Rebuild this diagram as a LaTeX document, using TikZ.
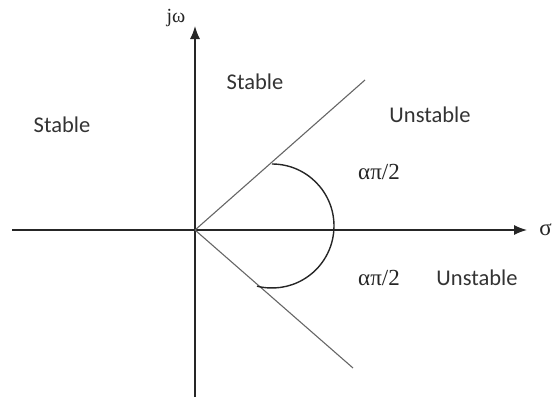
\documentclass[tikz,border=0pt]{standalone}
\usepackage{fontspec}
\setmainfont{Carlito}
\newfontfamily\grk{Liberation Serif}
\usetikzlibrary{arrows.meta}
\begin{document}
\begin{tikzpicture}[x=1pt,y=1pt,
  lbl/.style={font=\fontsize{22.5}{24}\selectfont, text=black!80, inner sep=0pt},
  glbl/.style={font=\grk\fontsize{23}{25}\selectfont, text=black!85, inner sep=0pt},
  axis/.style={line width=1.4pt, black!85, -{Latex[length=13pt,width=10pt]}},
  ray/.style={line width=1.1pt, black!60},
  arcline/.style={line width=1.4pt, black!85}]
\useasboundingbox (0,0) rectangle (553,400);
\coordinate (O) at (195,170);
\coordinate (xs) at (12,170);
\coordinate (xe) at (527,170);
\coordinate (ys) at (195,3);
\coordinate (ye) at (195,374);
\coordinate (u) at (365,320);
\coordinate (l) at (353,32);
\draw[axis] (xs) -- (xe);
\draw[axis] (ys) -- (ye);
\draw[ray] (O) -- (u);
\draw[ray] (O) -- (l);
\coordinate (a0) at (272,236);
\draw[arcline] (a0) arc[start angle=90, end angle=-104, radius=62];
\node[lbl] (s1) at (62,275) {Stable};
\node[lbl] (s2) at (255,318) {Stable};
\node[lbl] (u1) at (430,285) {Unstable};
\node[lbl] (u2) at (477,122) {Unstable};
\node[glbl] (g1) at (379,228) {απ/2};
\node[glbl] (g2) at (379,122) {απ/2};
\node[glbl, font=\grk\fontsize{20}{22}\selectfont] (jw) at (176,382) {jω};
\node[glbl, anchor=east] (sg) at (552,170) {σ};
\end{tikzpicture}
\end{document}
